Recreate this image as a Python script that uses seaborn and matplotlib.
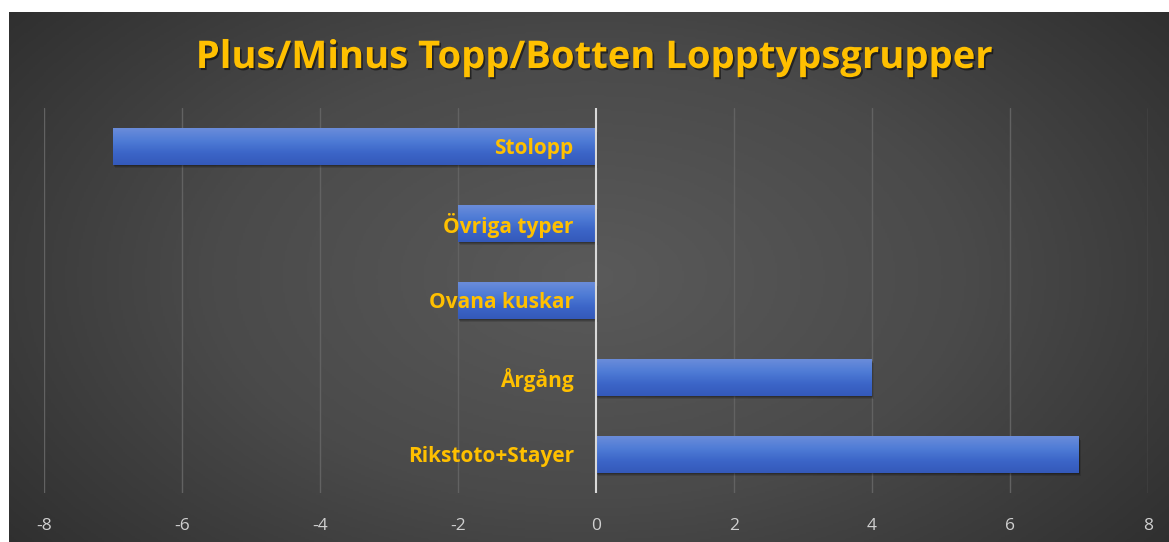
import numpy as np
import matplotlib
matplotlib.use("Agg")
import matplotlib.pyplot as plt
import matplotlib.patheffects as pe
import seaborn as sns

categories = ["Stolopp", "Övriga typer", "Ovana kuskar", "Årgång", "Rikstoto+Stayer"]
values = [-7, -2, -2, 4, 7]
xticks = [-8, -6, -4, -2, 0, 2, 4, 6, 8]

gold = "#FFC000"
tick_grey = "#D0D0D0"

sns.set_theme(style="dark")
plt.rcParams["font.family"] = ["Open Sans", "DejaVu Sans"]

fig = plt.figure(figsize=(11.69, 5.42), dpi=100)
fig.patch.set_facecolor("white")

# dark radial background panel
bg = fig.add_axes([9 / 1169, 0, 1 - 9 / 1169, 530 / 542], zorder=-2)
yy, xx = np.mgrid[-1:1:300j, -1:1:600j]
r = np.sqrt((xx / 1.0) ** 2 + (yy / 1.3) ** 2)
bg.imshow(r, cmap=matplotlib.colors.LinearSegmentedColormap.from_list(
    "bg", ["#5a5a5a", "#4a4a4a", "#2e2e2e"]), vmin=0, vmax=1.3,
    aspect="auto", extent=[0, 1, 0, 1])
bg.set_axis_off()

ax = fig.add_axes([44 / 1169, 49 / 542, 1104 / 1169, 385 / 542])
ax.patch.set_alpha(0)

sns.barplot(x=values, y=categories, orient="h", width=0.47,
            color="#4472C4", linewidth=0, ax=ax, zorder=3)

# gradient fill + soft shadow on the bars
grad = np.linspace(0, 1, 50).reshape(-1, 1)
cmap = matplotlib.colors.LinearSegmentedColormap.from_list(
    "bar", ["#6A8CDA", "#4F7CD6", "#3C66C8", "#3459BA"])
for p in ax.patches:
    x0, y0 = p.get_x(), p.get_y()
    w, h = p.get_width(), p.get_height()
    p.set_edgecolor("none")
    for k, a in [(0.05, 0.12), (0.035, 0.15), (0.02, 0.18)]:
        sh = plt.Rectangle((x0 + k * 0.6, y0 + k), w, h, color="black",
                           alpha=a, zorder=2, lw=0)
        ax.add_patch(sh)
    im = ax.imshow(grad, cmap=cmap, aspect="auto", zorder=4,
                   extent=[x0, x0 + w, y0 + h, y0])
    im.set_clip_path(p)

ax.set_xlim(-8, 8)
ax.set_ylim(4.5, -0.5)
ax.set_xticks(xticks)
ax.set_xticklabels([str(t) for t in xticks], color=tick_grey, fontsize=12.5)
ax.tick_params(axis="x", length=0, pad=18)
ax.set_yticks([])
ax.set_xlabel("")
ax.set_ylabel("")
for s in ax.spines.values():
    s.set_visible(False)
ax.grid(False)
for t in xticks:
    if t != 0:
        ax.axvline(t, color="#626262", lw=1, zorder=1)
ax.axvline(0, color="#D9D9D9", lw=1.5, zorder=5)

for i, c in enumerate(categories):
    ax.annotate(c, xy=(0, i), xytext=(-16, -1.5), textcoords="offset points",
                ha="right", va="center", color=gold, fontsize=15,
                fontweight="bold", zorder=6)

fig.text(0.509, 0.893, "Plus/Minus Topp/Botten Lopptypsgrupper",
         ha="center", va="center", color=gold, fontsize=27.5, fontweight="bold",
         path_effects=[pe.withSimplePatchShadow(offset=(1.2, -1.5),
                                                shadow_rgbFace="black",
                                                alpha=0.5)])

fig.savefig("out.png", dpi=100)
